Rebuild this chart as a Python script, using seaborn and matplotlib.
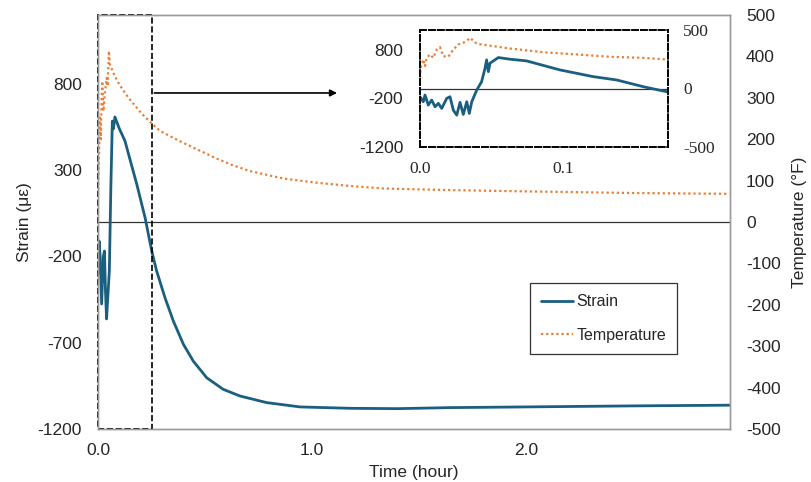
# Strain / temperature history with zoomed inset

import numpy as np
import pandas as pd
import matplotlib
matplotlib.use('Agg')
import matplotlib.pyplot as plt
from matplotlib.patches import Rectangle
import seaborn as sns

# main chart data (hours)
strain_t = [0, 0.005, 0.01, 0.017, 0.025, 0.03, 0.035, 0.04, 0.045, 0.053, 0.06, 0.067, 0.072,
            0.079, 0.1, 0.126, 0.15, 0.181, 0.205, 0.22, 0.251, 0.274, 0.313, 0.352, 0.399,
            0.445, 0.508, 0.585, 0.664, 0.788, 0.944, 1.178, 1.4, 1.645, 2.0, 2.5, 2.95]
strain = [-300, -110, -200, -475, -200, -168, -400, -562, -450, -284, 200, 585, 540,
          609, 540, 470, 360, 220, 100, 25, -168, -284, -439, -574, -709,
          -806, -903, -970, -1009, -1047, -1072, -1080, -1082, -1076, -1072, -1066, -1062]

temp_t = [0, 0.0047, 0.0093, 0.013, 0.017, 0.02, 0.025, 0.033, 0.041, 0.045, 0.051, 0.056,
          0.079, 0.1, 0.118, 0.142, 0.204, 0.251, 0.29, 0.36, 0.399, 0.477, 0.555, 0.63, 0.71,
          0.866, 1.02, 1.178, 1.333, 1.645, 2.0, 2.5, 2.95]
temp = [65, 164, 252, 200, 300, 340, 268, 316, 348, 328, 413, 380,
        352, 332, 318, 300, 262, 238, 220, 201, 191, 172, 153, 137, 123,
        105, 95, 87, 81, 77, 74, 70, 68]

# inset data (hours)
in_strain_t = [0, 0.0023, 0.0035, 0.0058, 0.0082, 0.0105, 0.0128, 0.0152, 0.0187, 0.021,
               0.0233, 0.0257, 0.028, 0.0303, 0.0327, 0.0345, 0.0362, 0.0397, 0.0431,
               0.0455, 0.0466, 0.0478, 0.049, 0.0548, 0.0629, 0.0746, 0.0979, 0.1212,
               0.1376, 0.1562, 0.1725]
in_strain = [-169, -272, -134, -340, -237, -375, -305, -408, -202, -169,
             -443, -546, -284, -532, -272, -511, -272, -31, 140,
             416, 587, 346, 519, 635, 601, 566, 381, 243,
             175, 37, -66]

in_temp_t = [0, 0.0005, 0.0012, 0.0023, 0.0035, 0.0047, 0.007, 0.0093, 0.0117, 0.014,
             0.0163, 0.0198, 0.0233, 0.0268, 0.0303, 0.0338, 0.035, 0.0397, 0.0629,
             0.0862, 0.1096, 0.1329, 0.1562, 0.1725]
in_temp = [91, 177, 205, 248, 191, 262, 291, 262, 333, 353,
           276, 271, 333, 376, 391, 419, 433, 382, 342,
           310, 291, 271, 262, 248]

blue = '#1b5f80'
orange = '#ed7d31'
dots = (0, (1, 1.3))

sns.set_style('white')
plt.rcParams['font.family'] = ['Liberation Sans', 'DejaVu Sans']
plt.rcParams['axes.unicode_minus'] = False

fig = plt.figure(figsize=(8.12, 4.82), dpi=100)
ax = fig.add_axes([98 / 812, 53 / 482, 632 / 812, 414 / 482])
ax2 = ax.twinx()

sns.lineplot(x=strain_t, y=strain, ax=ax, color=blue, lw=2, label='Strain', legend=False)
sns.lineplot(x=temp_t, y=temp, ax=ax2, color=orange, lw=1.6, ls=dots, label='Temperature', legend=False)

ax.axhline(0, color='#333333', lw=0.9, zorder=1)
ax.set_xlim(0, 2.953)
ax.set_ylim(-1200, 1200)
ax.set_yticks([-1200, -700, -200, 300, 800])
ax.set_xticks([0, 1, 2])
ax.set_xticklabels(['0.0', '1.0', '2.0'])
ax2.set_ylim(-500, 500)
ax2.set_yticks(range(-500, 501, 100))
ax.tick_params(axis='both', length=0, labelsize=12.5, pad=10)
ax.tick_params(axis='y', pad=11.5)
ax2.tick_params(axis='y', length=0, labelsize=12.5, pad=11.5)
ax.set_xlabel('Time (hour)', fontsize=12.5, labelpad=5)
ax.set_ylabel('Strain (με)', fontsize=12.5, labelpad=4)
ax2.set_ylabel('Temperature (°F)', fontsize=12.5, labelpad=8)
for a in (ax, ax2):
    for s in a.spines.values():
        s.set_color('#9a9a9a')
        s.set_linewidth(1)

# zoom window and arrow
ax.add_patch(Rectangle((0, -1200), 0.25, 2400, fill=False, ec='black', ls='--', lw=1.2,
                       clip_on=False, zorder=5))
ax.annotate('', xy=(1.13, 748), xytext=(0.25, 748),
            arrowprops=dict(arrowstyle='-|>', color='black', lw=1.2, mutation_scale=10))

# legend
h1, l1 = ax.get_legend_handles_labels()
h2, l2 = ax2.get_legend_handles_labels()
leg = fig.legend(h1 + h2, l1 + l2, loc='upper left', bbox_to_anchor=(530 / 812, 1 - 283 / 482),
                 borderaxespad=0, fontsize=11.5, frameon=True, fancybox=False, framealpha=1,
                 edgecolor='#333333', labelspacing=1.15, handlelength=2.0, handletextpad=0.2,
                 borderpad=0.7)
leg.get_frame().set_linewidth(0.9)

# inset
ia = fig.add_axes([420 / 812, 1 - 147 / 482, 248 / 812, 117 / 482])
ia2 = ia.twinx()
sns.lineplot(x=in_strain_t, y=in_strain, ax=ia, color=blue, lw=2, legend=False)
sns.lineplot(x=in_temp_t, y=in_temp, ax=ia2, color=orange, lw=1.6, ls=dots, legend=False)
ia.axhline(0, color='#333333', lw=0.9, zorder=1)
ia.set_xlim(0, 0.1735)
ia.set_ylim(-1200, 1200)
ia.set_yticks([-1200, -200, 800])
ia.set_xticks([0, 0.1])
ia.set_xticklabels(['0.0', '0.1'], family='Liberation Serif')
ia2.set_ylim(-500, 500)
ia2.set_yticks([-500, 0, 500])
ia2.set_yticklabels(['-500', '0', '500'], family='Liberation Serif')
ia.tick_params(axis='both', length=0, labelsize=12.5)
ia.tick_params(axis='x', pad=10)
ia.tick_params(axis='y', pad=12)
ia2.tick_params(axis='y', length=0, labelsize=12.5, pad=11)
for a in (ia, ia2):
    for s in a.spines.values():
        s.set_color('black')
        s.set_linestyle('--')
        s.set_linewidth(1.2)

fig.savefig('out.png', dpi=100)
